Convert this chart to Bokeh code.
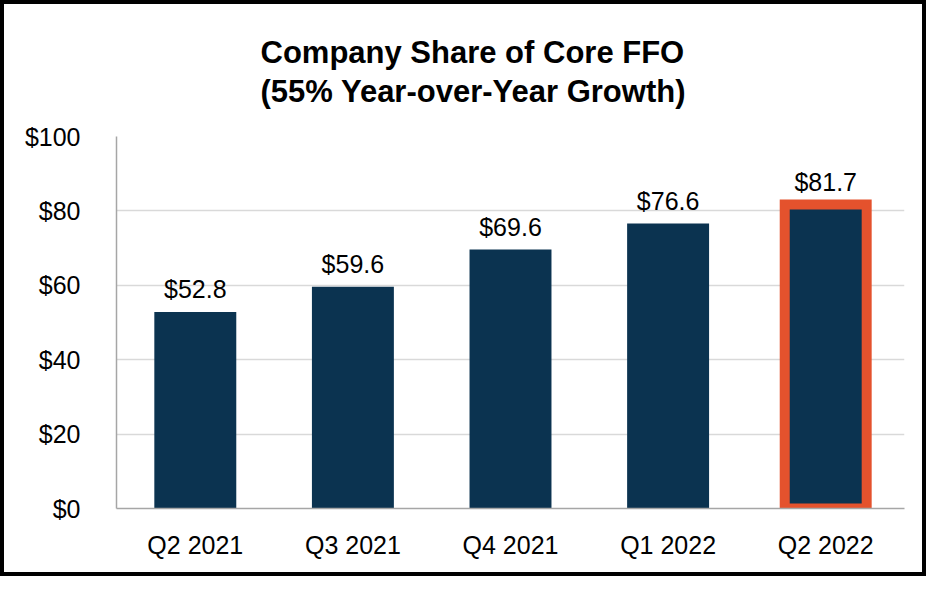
from bokeh.plotting import figure
from bokeh.models import ColumnDataSource, NumeralTickFormatter, FixedTicker
from bokeh.core.properties import value
from bokeh.embed import file_html
from bokeh.resources import INLINE

quarters = ["Q2 2021", "Q3 2021", "Q4 2021", "Q1 2022", "Q2 2022"]
core_ffo = [52.8, 59.6, 69.6, 76.6, 81.7]
value_labels = ["$52.8", "$59.6", "$69.6", "$76.6", "$81.7"]
highlight = [False, False, False, False, True]
y_ticks = [0, 20, 40, 60, 80, 100]
title_lines = ["Company Share of Core FFO", "(55% Year-over-Year Growth)"]

NAVY = "#0B3350"
ORANGE = "#E4522D"

src = ColumnDataSource(dict(
    q=quarters,
    v=core_ffo,
    lbl=value_labels,
    lc=[ORANGE if h else NAVY for h in highlight],
    lw=[10 if h else 0 for h in highlight],
))

p = figure(
    x_range=quarters, y_range=(0, 100),
    width=926, height=576,
    output_backend="svg", toolbar_location=None,
    min_border_left=112, min_border_right=26, min_border_top=131, min_border_bottom=72,
    title="\n".join(title_lines),
)
p.styles = {"border": "4px solid black"}
p.title.align = "left"
p.title.offset = 144
p.title.text_font = "Liberation Sans"
p.title.text_font_size = "31px"
p.title.text_font_style = "bold"
p.title.text_color = "black"
p.title.text_line_height = 1.1
p.title.standoff = 56

p.vbar(x="q", top="v", width=0.52, source=src, fill_color=NAVY,
       line_color="lc", line_width="lw", line_join="miter")
p.text(x="q", y="v", text="lbl", source=src, text_align="center",
       text_baseline="bottom", y_offset=-9, text_font_size="25px",
       text_font=value("Liberation Sans"), text_color="black")

p.x_range.range_padding = 0
p.outline_line_color = None
p.background_fill_color = "white"
p.border_fill_color = "white"

p.yaxis.ticker = FixedTicker(ticks=y_ticks)
p.yaxis.formatter = NumeralTickFormatter(format="$0")
for ax in (p.xaxis, p.yaxis):
    ax.axis_line_color = "#A6A6A6"
    ax.axis_line_width = 1.5
    ax.major_tick_line_color = None
    ax.minor_tick_line_color = None
    ax.major_label_text_font = "Liberation Sans"
    ax.major_label_text_font_size = "25px"
    ax.major_label_text_color = "black"
p.yaxis.major_label_standoff = 30
p.xaxis.major_label_standoff = 16

p.xgrid.grid_line_color = None
p.ygrid.grid_line_color = "#D9D9D9"
p.ygrid.grid_line_width = 1.5

open("out.html", "w").write(file_html(p, INLINE))
